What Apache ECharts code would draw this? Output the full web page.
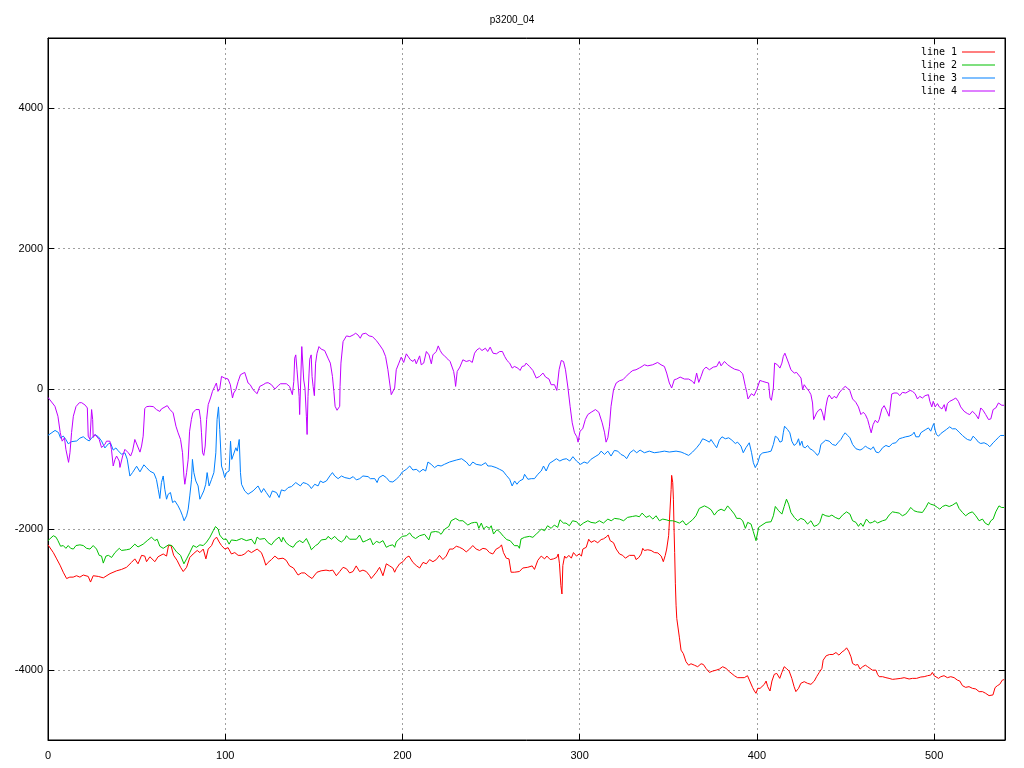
<!DOCTYPE html>
<html>
<head>
<meta charset="utf-8">
<script src="https://cdn.jsdelivr.net/npm/echarts@6/dist/echarts.min.js"></script>
<style>html,body{margin:0;padding:0;background:#fff}#c{width:1024px;height:768px}</style>
</head>
<body>
<div id="c"></div>
<script>
const titleText = 'p3200_04';
const seriesNames = ['line 1', 'line 2', 'line 3', 'line 4'];
const yTickValues = [-4000, -2000, 0, 2000, 4000];

const line1 = [[0,-2220],[1.1,-2240],[3,-2330],[4.9,-2420],[6.8,-2510],[8.6,-2610],[10.5,-2700],[12.3,-2680],[14.2,-2680],[16.1,-2660],[18,-2680],[19.9,-2650],[22.7,-2670],[24,-2750],[25.5,-2660],[28.4,-2670],[31.2,-2690],[35,-2630],[38.7,-2590],[41.5,-2570],[44.3,-2540],[47.1,-2470],[49,-2420],[50.8,-2490],[52.8,-2370],[54.6,-2380],[55.6,-2460],[57.5,-2390],[60.3,-2460],[62.1,-2390],[63.1,-2400],[65,-2350],[66.9,-2380],[68,-2230],[69.4,-2230],[70.9,-2370],[72.8,-2440],[74.8,-2540],[76.3,-2600],[78.2,-2540],[80,-2400],[81.9,-2350],[84.2,-2300],[85.7,-2330],[87.6,-2280],[89.1,-2420],[90.4,-2280],[92.3,-2230],[93.6,-2150],[95.1,-2110],[96.6,-2180],[97.9,-2230],[99.8,-2280],[101.6,-2260],[103.5,-2350],[105.4,-2330],[107.3,-2370],[109.2,-2370],[111,-2350],[112.9,-2300],[114.8,-2330],[118,-2280],[120.4,-2330],[121.8,-2420],[122.9,-2510],[124.2,-2470],[126.1,-2430],[128,-2380],[129.9,-2420],[130.8,-2430],[132.6,-2410],[134.4,-2440],[136.3,-2520],[138.5,-2550],[141.1,-2650],[143,-2620],[144.9,-2620],[146.7,-2660],[149,-2700],[150.5,-2650],[151.8,-2610],[154.1,-2590],[156.9,-2580],[158.8,-2590],[160.7,-2580],[162.7,-2660],[164.6,-2600],[166.5,-2540],[168.4,-2560],[170.2,-2620],[172.1,-2600],[173.9,-2520],[175.8,-2600],[177.7,-2580],[179.6,-2600],[181.5,-2660],[182.4,-2700],[185.3,-2610],[187.1,-2540],[189,-2660],[190.9,-2490],[192.8,-2520],[194.6,-2550],[195.6,-2610],[196.5,-2560],[198.4,-2490],[200.3,-2460],[202.2,-2400],[203.7,-2380],[205.9,-2470],[207.8,-2515],[209.7,-2550],[211.6,-2470],[213.5,-2490],[215.3,-2430],[217.2,-2460],[219.1,-2430],[220.9,-2370],[222.8,-2430],[224.7,-2380],[226.6,-2280],[228.5,-2280],[230.4,-2240],[232.2,-2255],[234.1,-2280],[236,-2320],[237.9,-2280],[239.7,-2230],[241.6,-2280],[243.5,-2300],[245.4,-2270],[247.3,-2280],[249.1,-2330],[251,-2350],[252.9,-2280],[254.8,-2255],[255.9,-2220],[257,-2330],[258.6,-2410],[260.1,-2420],[261.3,-2610],[263.2,-2610],[266,-2600],[267.9,-2550],[270.7,-2540],[273.2,-2520],[274.5,-2570],[276.4,-2440],[278.3,-2380],[280.2,-2420],[281.5,-2380],[283.4,-2430],[285.2,-2420],[287.1,-2400],[287.9,-2350],[288.6,-2490],[289.4,-2800],[290,-2920],[290.5,-2515],[291.5,-2380],[292.4,-2410],[293.9,-2370],[295.3,-2410],[296.5,-2330],[298.2,-2380],[299.7,-2350],[301,-2380],[301.8,-2280],[303.7,-2255],[305.1,-2140],[306.4,-2185],[308.3,-2160],[310.2,-2190],[312.1,-2145],[313.4,-2135],[314.9,-2110],[316.1,-2080],[317.2,-2160],[319.1,-2190],[320.6,-2280],[322.5,-2350],[324.3,-2370],[325.8,-2410],[328.1,-2370],[330.9,-2370],[331.8,-2430],[333.4,-2400],[334.7,-2350],[335.6,-2270],[336.5,-2300],[338.4,-2290],[340.3,-2300],[342.2,-2330],[344.1,-2335],[346,-2380],[347.2,-2460],[348.3,-2370],[349.1,-2280],[350.2,-2090],[351,-1710],[351.6,-1430],[351.9,-1230],[352.5,-1330],[352.9,-1570],[353.3,-2040],[353.6,-2330],[354,-2775],[354.4,-3080],[354.8,-3270],[356.3,-3545],[357.2,-3720],[358.5,-3770],[360,-3885],[361.5,-3935],[362.8,-3914],[364.7,-3934],[366.6,-3956],[368.5,-3914],[369.8,-3924],[371.3,-3980],[373.2,-4037],[375.1,-4018],[377,-4005],[378.8,-3990],[380.7,-3956],[382.6,-3980],[384.5,-4027],[385.4,-4051],[387.3,-4084],[389.1,-4112],[391,-4112],[392.9,-4112],[394.7,-4084],[395.6,-4098],[397.6,-4254],[398.6,-4302],[399.5,-4335],[400.5,-4264],[401.8,-4264],[402.9,-4288],[404.2,-4207],[405.2,-4160],[406.1,-4240],[407.4,-4302],[408.5,-4160],[409.8,-4065],[411.2,-4051],[412.9,-4122],[414.1,-4037],[415.4,-3956],[416.6,-3980],[418.2,-4018],[419.7,-4122],[421,-4240],[422,-4311],[423.5,-4264],[424.8,-4193],[426.7,-4169],[428.6,-4193],[430.5,-4207],[432.4,-4160],[433.7,-4098],[435.2,-4037],[436.7,-3980],[437.4,-3863],[439.1,-3800],[441,-3782],[442.9,-3782],[444.6,-3754],[446.3,-3791],[448.1,-3744],[449.5,-3721],[450.6,-3687],[451.8,-3735],[453.1,-3815],[454,-3910],[455.6,-3934],[456.9,-3924],[458.2,-3990],[459.7,-3956],[461.2,-3934],[462.5,-3956],[463.8,-3980],[465.2,-4005],[467.2,-4005],[468.1,-4065],[469,-4098],[470.9,-4098],[472.8,-4112],[474.6,-4122],[476.5,-4136],[478.4,-4131],[481.2,-4122],[483.1,-4112],[485.9,-4131],[487.8,-4122],[490.1,-4122],[492.5,-4103],[494.4,-4098],[496.3,-4084],[498.1,-4075],[499,-4037],[500,-4084],[501,-4065],[502.5,-4122],[503.8,-4098],[505.6,-4084],[507.5,-4112],[509.4,-4098],[511.3,-4112],[513.1,-4146],[514.5,-4160],[516,-4226],[517.8,-4250],[519.7,-4240],[521.6,-4264],[523.5,-4273],[525.4,-4311],[527.3,-4311],[529.1,-4335],[531,-4368],[531.9,-4396],[533.2,-4358],[534.4,-4254],[535.7,-4226],[537,-4207],[538.5,-4146],[539.5,-4140]];

const line2 = [[0,-2160],[1.1,-2180],[3,-2090],[4.5,-2110],[5.6,-2160],[7.1,-2240],[8.6,-2230],[10.1,-2270],[11.4,-2230],[12.8,-2270],[14.3,-2280],[15.8,-2230],[18,-2220],[19.9,-2230],[21.8,-2270],[23.7,-2280],[25.5,-2230],[27.4,-2280],[28.9,-2370],[30.2,-2380],[31.2,-2480],[32.7,-2380],[34.1,-2370],[35.9,-2400],[37.8,-2330],[40.2,-2270],[41.5,-2300],[44.3,-2290],[46.2,-2280],[49,-2210],[50.8,-2250],[53.7,-2210],[56,-2160],[58.4,-2110],[60.3,-2160],[61.6,-2140],[63.1,-2240],[65,-2270],[65.9,-2270],[68,-2220],[69.9,-2230],[72.5,-2320],[74.8,-2370],[76.7,-2490],[78.2,-2420],[80,-2330],[81.9,-2230],[83.8,-2255],[85.7,-2220],[87.6,-2230],[89.5,-2180],[91.4,-2110],[93.2,-2020],[94.5,-1960],[96,-1995],[96.9,-2080],[98.8,-2140],[100.7,-2140],[102.2,-2210],[103.5,-2150],[106.3,-2160],[109.2,-2130],[111.9,-2160],[114.8,-2140],[116.7,-2210],[118,-2110],[119.5,-2140],[122.3,-2130],[124.2,-2190],[126.1,-2220],[127.9,-2160],[130.4,-2110],[131.8,-2180],[132.6,-2113],[134.4,-2190],[136.3,-2230],[138.3,-2255],[140.1,-2190],[142,-2160],[143.9,-2190],[145.8,-2130],[147.7,-2230],[148.6,-2290],[151,-2230],[152.3,-2210],[154.2,-2150],[157,-2140],[158,-2100],[159.9,-2140],[161.8,-2100],[163.6,-2150],[165.5,-2180],[167.4,-2140],[168.4,-2090],[170.2,-2140],[174,-2140],[175.8,-2080],[177.7,-2180],[179.6,-2160],[181.9,-2130],[183.4,-2220],[185.3,-2170],[187.1,-2190],[189,-2160],[190.9,-2255],[192.8,-2230],[194.6,-2220],[195.6,-2255],[196.5,-2180],[198,-2140],[199.9,-2100],[200.3,-2090],[202.2,-2090],[204.1,-2050],[205.5,-2100],[207.4,-2130],[209.7,-2090],[212.5,-2070],[214.9,-2150],[216.2,-2040],[218.7,-2030],[220.5,-2040],[221.8,-2070],[223.7,-2000],[226.2,-1957],[227.5,-1877],[230,-1843],[232.2,-1877],[234.1,-1877],[236.9,-1938],[238.8,-1910],[240.7,-1900],[242,-1900],[243.1,-1985],[244.5,-1910],[245.8,-1995],[247.3,-1957],[249.1,-1985],[250.1,-1948],[251.4,-2066],[253.3,-2004],[254.8,-2033],[257,-2099],[258.9,-2146],[260.8,-2161],[263.2,-2232],[265.1,-2232],[266,-2269],[266.9,-2137],[268.9,-2113],[271.7,-2099],[273.6,-2113],[275.5,-2066],[277,-2033],[278.3,-1995],[280.2,-2019],[281.9,-1948],[283.9,-1985],[285.7,-1938],[287.6,-1971],[288.9,-1863],[290.8,-1910],[292.3,-1910],[294.2,-1948],[296,-1877],[298.3,-1891],[300.2,-1948],[302.1,-1910],[304.6,-1877],[306.4,-1900],[308.9,-1910],[311.1,-1877],[313.4,-1910],[315.9,-1853],[317.8,-1877],[319.7,-1843],[322.5,-1853],[324.8,-1877],[327,-1829],[329.9,-1815],[331.8,-1806],[333.7,-1820],[335.2,-1768],[336.5,-1800],[337.5,-1829],[339.4,-1806],[341.3,-1853],[343.1,-1806],[345,-1877],[346.9,-1853],[348.8,-1863],[350.6,-1877],[352.5,-1877],[354.4,-1891],[356.3,-1910],[358.2,-1877],[360,-1938],[361.9,-1900],[363.7,-1863],[365.6,-1806],[367.5,-1701],[370.4,-1665],[372.3,-1688],[374.2,-1721],[376,-1796],[377.9,-1735],[379.8,-1712],[381.7,-1735],[383.5,-1665],[385.4,-1721],[387.3,-1782],[388.6,-1843],[390.5,-1843],[392,-1877],[393.5,-1985],[394.8,-1900],[396.7,-1924],[398,-2033],[399.5,-2161],[401,-1971],[402.3,-1948],[403.3,-1948],[405.2,-1900],[408,-1891],[409.3,-1806],[410.4,-1673],[412.3,-1735],[414.1,-1782],[415.4,-1674],[416.7,-1570],[417.9,-1641],[419.2,-1759],[421.1,-1829],[423,-1877],[424.8,-1843],[426.7,-1863],[428.6,-1924],[430.5,-1877],[432.3,-1957],[434.2,-1938],[435.5,-1900],[437,-1782],[438.9,-1806],[440.8,-1815],[442.3,-1796],[444.2,-1829],[446.4,-1853],[448.3,-1796],[450.6,-1750],[452.5,-1782],[454,-1877],[455.9,-1900],[457.3,-1957],[458.6,-1910],[459.9,-1957],[461.8,-1853],[463.7,-1910],[465.2,-1900],[466.7,-1877],[468,-1910],[469,-1910],[470.9,-1877],[472.8,-1863],[474.6,-1796],[476.5,-1750],[478.4,-1759],[480.3,-1768],[482.1,-1806],[484,-1782],[485.5,-1735],[486.8,-1687],[488.7,-1735],[490.6,-1750],[493.4,-1759],[495.3,-1688],[496.8,-1617],[498.1,-1641],[500,-1655],[501.9,-1688],[503.2,-1712],[504.7,-1674],[506.6,-1655],[508.5,-1674],[510.3,-1655],[512.6,-1617],[514.1,-1702],[516,-1759],[517.8,-1806],[519.7,-1768],[521.6,-1750],[523.5,-1806],[525.4,-1877],[527.3,-1853],[528.8,-1910],[530.7,-1938],[532,-1877],[533.3,-1853],[534.8,-1750],[536.6,-1665],[538.1,-1688],[539.5,-1688]];

const line3 = [[0,-660],[1.1,-650],[4,-590],[5.9,-620],[7.1,-700],[8.6,-670],[10.1,-720],[11.4,-780],[13.3,-750],[16.2,-740],[18,-700],[19.9,-680],[21.8,-720],[23.3,-740],[24.6,-700],[26.5,-650],[28.4,-680],[30.2,-740],[32.1,-840],[34.1,-780],[35.3,-770],[36.8,-870],[38.3,-840],[39.6,-880],[41.5,-930],[43.4,-910],[44.7,-1000],[46.2,-1240],[47.7,-1190],[50,-1100],[51.9,-1180],[54.1,-1080],[55.6,-1120],[57.5,-1170],[59.8,-1200],[61.2,-1290],[62.2,-1430],[63.1,-1560],[64,-1333],[65,-1239],[65.9,-1428],[66.9,-1570],[67.8,-1499],[69.1,-1475],[70.3,-1617],[71.6,-1594],[73.4,-1665],[74.8,-1736],[75.9,-1807],[76.8,-1877],[78.2,-1807],[79.1,-1712],[80,-1523],[81,-1286],[81.5,-1003],[82.3,-1191],[83.4,-1310],[84.7,-1381],[85.7,-1570],[86.6,-1523],[87.9,-1452],[89,-1357],[89.8,-1191],[90.9,-1381],[92.3,-1286],[93.6,-1191],[94.7,-908],[95.4,-435],[96.2,-255],[96.9,-577],[97.9,-1097],[98.8,-1168],[99.7,-1262],[100.7,-1191],[102.2,-1168],[103,-743],[103.7,-1003],[104.8,-979],[106,-837],[106.8,-885],[107.9,-719],[108.6,-1191],[109.2,-1357],[111,-1452],[112.9,-1499],[115.7,-1452],[118.5,-1381],[120.4,-1475],[121.7,-1418],[123.2,-1475],[125.1,-1546],[126.6,-1452],[128.9,-1475],[130.4,-1546],[131.7,-1437],[133.6,-1452],[135.5,-1404],[137.4,-1390],[139.8,-1333],[141.1,-1357],[142.4,-1381],[143.9,-1333],[145.8,-1347],[147.3,-1371],[148.6,-1418],[150.5,-1357],[152.4,-1381],[153.7,-1310],[155.2,-1333],[157.1,-1310],[159,-1239],[160.5,-1191],[161.8,-1239],[163.7,-1277],[165.6,-1239],[167.5,-1262],[170.3,-1277],[172.2,-1248],[174,-1295],[175.9,-1277],[177.7,-1239],[180.6,-1248],[181.9,-1277],[184.4,-1277],[185.7,-1333],[186.8,-1262],[189,-1229],[190.9,-1262],[192.8,-1319],[194.6,-1324],[196.5,-1286],[198.4,-1239],[199.9,-1182],[200.3,-1168],[202.2,-1144],[204.1,-1097],[205.9,-1154],[207.8,-1144],[209.7,-1182],[211.6,-1144],[213.1,-1168],[214.4,-1040],[216.2,-1073],[218.1,-1120],[220,-1087],[221.8,-1097],[223.7,-1073],[226.6,-1040],[228.5,-1026],[230.4,-1012],[233.4,-993],[234.1,-1012],[236,-1040],[237.9,-1097],[239.7,-1040],[241.6,-1073],[244.5,-1087],[246.9,-1050],[248.2,-1097],[250.1,-1097],[252.9,-1120],[254.8,-1144],[256.7,-1168],[258.6,-1229],[260.5,-1286],[261.9,-1381],[263.3,-1310],[264.6,-1357],[266.1,-1310],[268,-1286],[268.9,-1215],[270.8,-1286],[272.7,-1277],[274.5,-1277],[276.4,-1215],[278.3,-1168],[279.6,-1097],[281.1,-1168],[283,-1059],[285,-1026],[286.9,-993],[288.8,-1026],[290.6,-1003],[292.5,-993],[294.4,-1026],[296.2,-964],[298.2,-1026],[300.5,-1073],[302.5,-1040],[304.4,-1059],[306.3,-1003],[308.7,-964],[310.8,-932],[312.1,-885],[314,-932],[315.9,-885],[317.7,-955],[319.6,-875],[321.5,-885],[323.3,-932],[325.2,-955],[326.5,-993],[328.4,-908],[330.4,-870],[332.2,-908],[334.1,-870],[336.5,-908],[339.3,-885],[342.1,-908],[345,-898],[347.8,-885],[350.6,-898],[354.4,-885],[357.2,-898],[359.1,-918],[361.5,-946],[363.7,-898],[366,-837],[367.9,-776],[369.4,-709],[371.3,-729],[373.2,-757],[374.1,-719],[376,-790],[377.3,-837],[378.8,-729],[380.3,-681],[382.2,-709],[384.1,-695],[385.9,-729],[387.8,-776],[389.1,-757],[391,-813],[392.3,-908],[393.8,-837],[395.7,-766],[397,-908],[398,-1050],[399.1,-1120],[400.5,-1050],[401.8,-940],[403.3,-910],[406.1,-898],[408,-885],[409.3,-790],[410.4,-672],[411.7,-695],[413,-757],[414.2,-743],[414.9,-624],[415.6,-530],[417.3,-577],[418.6,-624],[419.7,-743],[421,-804],[422.4,-776],[423.5,-709],[424.3,-804],[425.4,-743],[426.1,-823],[427.3,-837],[428.6,-804],[429.9,-851],[431.4,-870],[432.9,-908],[434.2,-946],[435.2,-908],[436.1,-790],[437,-766],[438.8,-729],[440.8,-743],[442.6,-790],[444.5,-804],[446,-757],[447.4,-719],[448.7,-662],[449.8,-624],[451.2,-662],[452.5,-695],[454,-790],[455.9,-851],[458.2,-870],[459.7,-851],[461.2,-813],[462.5,-837],[464.4,-861],[465.7,-823],[467.2,-898],[468.7,-908],[470,-870],[470.9,-837],[472.8,-804],[474.6,-823],[476.5,-776],[478.4,-766],[480.3,-709],[482.1,-695],[484,-681],[485.9,-672],[487.8,-648],[488.7,-615],[489.7,-681],[491.5,-681],[492.5,-624],[493.8,-601],[495.3,-577],[496.8,-554],[498.1,-601],[499,-539],[499.8,-492],[500.6,-586],[501.3,-648],[502.5,-672],[503.8,-634],[505.6,-601],[506.9,-577],[508.8,-539],[510.3,-567],[512.2,-567],[514.1,-615],[516,-662],[517.5,-695],[518.8,-719],[520.7,-733],[522,-672],[523.5,-709],[525,-757],[526.3,-776],[528.2,-766],[530.1,-790],[531.4,-823],[533.3,-766],[534.8,-729],[536.1,-695],[537.4,-662],[538.5,-648],[539.5,-662]];

const line4 = [[0,-120],[1.1,-142],[3.9,-246],[5.6,-388],[6.9,-620],[8,-743],[9.3,-695],[10.1,-860],[11.6,-1045],[12.4,-908],[13.3,-620],[14.3,-388],[15.8,-250],[17.7,-195],[19,-195],[21,-230],[22.2,-270],[22.7,-672],[23.7,-719],[24.6,-293],[25.2,-435],[25.5,-690],[26.5,-648],[27.4,-672],[28.9,-719],[30.2,-833],[32.1,-790],[33,-743],[34.9,-743],[35.8,-860],[36.8,-1097],[37.8,-1003],[38.7,-955],[40.2,-1026],[40.6,-1117],[42.1,-955],[43.4,-860],[45.3,-908],[46.6,-955],[47.7,-885],[49,-719],[50,-743],[51.9,-899],[52.8,-813],[53.7,-672],[54.6,-280],[55.6,-251],[57.5,-246],[59.4,-251],[61.2,-293],[63.1,-320],[64,-284],[65,-284],[67.3,-237],[68.8,-293],[70.6,-340],[72.2,-530],[73.4,-624],[74.8,-719],[75.9,-908],[76.7,-1239],[77.2,-1357],[78.2,-1191],[79.1,-1003],[79.9,-601],[80.9,-435],[81.7,-340],[83.4,-293],[85.3,-293],[86.1,-435],[86.6,-624],[87.2,-908],[87.9,-946],[88.7,-813],[89.5,-435],[90.4,-223],[91.7,-128],[92.8,-34],[94.1,37],[95,85],[95.9,-34],[96.9,0],[97.9,179],[98.8,189],[99.7,156],[101.6,142],[102.9,61],[104.1,-128],[104.8,-57],[106,-10],[107.3,108],[108.6,203],[109.7,217],[111,236],[112,227],[112.9,85],[114.1,61],[115.7,-10],[116.6,14],[118,-67],[119.5,37],[121.4,61],[122.9,85],[124.2,90],[126.1,61],[128,0],[129.9,47],[131.2,75],[134.5,75],[136.3,37],[137.9,-81],[138.7,108],[139.2,440],[139.8,486],[140.5,274],[141.1,85],[141.7,-105],[142,-364],[142.6,128],[143.2,604],[143.7,614],[144.3,128],[145,14],[145.8,-388],[146.2,-648],[146.7,-105],[147.3,227],[147.7,425],[148.5,486],[149,179],[149.6,37],[150.3,-95],[151,369],[151.8,510],[152.9,604],[154.2,567],[156.1,548],[158,440],[159.3,369],[160.5,179],[161.3,-34],[162,-246],[163.1,-303],[164.6,-246],[164.8,37],[165.3,369],[166.5,675],[168.4,756],[170.3,746],[172.2,770],[173.6,794],[174.9,770],[176.2,723],[177.4,784],[179.3,794],[181.2,756],[183.1,746],[185.3,689],[187.1,628],[189,557],[190.5,462],[191.8,274],[192.8,85],[193.7,-81],[194.6,-105],[195.6,14],[196.5,274],[198,369],[199.3,453],[200.7,378],[202.2,501],[203.2,486],[204.5,416],[206,392],[206.9,425],[207.8,359],[209.7,472],[210.6,345],[212,369],[213.5,534],[215,486],[216.3,359],[217.2,486],[219.1,534],[220.2,614],[221.3,548],[222.4,501],[223.7,472],[225.6,425],[226.9,392],[228,378],[228.9,250],[229.5,156],[230,37],[230.9,250],[232.4,312],[234.1,416],[236,392],[237.9,406],[239.4,378],[240.7,510],[242,557],[243.5,581],[244.9,548],[246.8,581],[248.1,534],[249.5,596],[251.1,510],[253,501],[254.9,534],[256.4,534],[257.7,463],[259,406],[260.5,369],[261.9,298],[263.2,321],[265.1,298],[266.4,264],[267.5,321],[268.9,330],[269.8,369],[271.7,321],[273.6,264],[275.5,156],[277.4,179],[279.3,227],[280.8,170],[282.7,142],[283.9,61],[285.8,61],[287.1,-20],[288.4,274],[289.6,406],[290.9,392],[292,274],[293.4,14],[294.6,-246],[295.8,-482],[297.1,-624],[298.4,-681],[299.1,-757],[300.2,-601],[301.7,-567],[303.2,-435],[304.6,-364],[306.5,-331],[308.9,-293],[310.8,-331],[312.7,-482],[314,-615],[314.9,-757],[315.9,-695],[316.8,-530],[317.7,-246],[319.1,-10],[320.6,85],[322.5,118],[324.4,132],[326.2,179],[328.1,227],[330,264],[331.8,274],[333.7,300],[335.2,321],[336.5,345],[338.4,330],[341.2,345],[344,378],[345.9,345],[347.8,321],[349.1,227],[350.6,85],[351.9,14],[353.4,132],[354.7,142],[356.7,170],[359.1,142],[361.5,142],[363.7,108],[364.7,75],[366,227],[367.2,94],[368.5,179],[369.8,274],[371.3,312],[373.2,274],[375.4,312],[377.3,321],[378.8,392],[379.8,330],[381.7,392],[383.5,345],[385.4,312],[387.3,283],[390.1,264],[392,217],[393.5,37],[394.3,-48],[395,-142],[396.9,-67],[398.4,-95],[399.9,-10],[401.7,122],[403.3,108],[405.2,94],[406.6,85],[407.4,-128],[408.2,-161],[409.3,14],[410,369],[410.6,392],[411.6,345],[413,298],[414.1,369],[414.9,463],[415.8,510],[416.7,486],[417.9,369],[419.2,274],[421.1,227],[422.4,236],[423.5,264],[424.9,156],[425.8,-10],[426.7,61],[428,14],[429.5,-34],[430.5,-81],[431.4,-199],[432,-435],[432.6,-459],[433.7,-340],[434.8,-303],[436.1,-284],[437,-340],[438,-445],[438.9,-255],[439.9,-128],[440.8,-85],[442.3,-142],[443.6,-105],[444.9,-128],[446.4,-57],[447.9,-10],[449.8,37],[451.1,14],[452.4,-20],[454,-142],[455.8,-189],[457.3,-255],[458.7,-364],[460,-331],[461.2,-364],[462.5,-435],[463.4,-520],[464.5,-624],[465.6,-506],[466.8,-445],[468.1,-482],[469,-435],[470.5,-284],[471.8,-237],[473.1,-303],[474.6,-388],[476.1,-71],[477.4,-57],[479.3,-57],[480.6,-95],[482.1,-48],[484,-57],[486.5,-20],[487.8,-34],[489.3,-67],[490.6,-142],[491.9,-105],[493.4,-128],[494.9,-95],[496.8,-81],[497.6,-176],[498.7,-255],[499.5,-176],[500.6,-255],[501.9,-208],[502.9,-255],[504.4,-284],[505.7,-223],[506.6,-317],[507.5,-208],[508.8,-176],[510.7,-152],[512.2,-128],[513.7,-176],[515,-255],[516.9,-317],[518.8,-350],[520.1,-364],[521.6,-317],[523.5,-364],[525,-426],[526.3,-270],[527.6,-303],[529.1,-364],[530.7,-435],[532,-426],[533.3,-293],[534.8,-270],[536.3,-199],[537,-176],[538.2,-232],[539.5,-232]];

const colors = ['#ff0000', '#00c000', '#0080ff', '#c000ff'];
const allData = [line1, line2, line3, line4];

const chart = echarts.init(document.getElementById('c'), null, {renderer: 'canvas'});
const gridLine = {show: true, lineStyle: {color: '#a0a0a0', width: 1, type: [2, 3]}};
const labelFont = {color: '#000', fontFamily: 'Liberation Sans', fontSize: 11};
const plainNum = v => String(v);

chart.setOption({
  animation: false,
  backgroundColor: '#ffffff',
  title: {
    text: titleText, left: 'center', top: 10,
    textStyle: {fontFamily: 'Liberation Sans', fontSize: 10, fontWeight: 'normal', color: '#000'}
  },
  legend: {
    orient: 'vertical', right: 24, top: 42, align: 'right', padding: 5,
    itemWidth: 33, itemHeight: 12, itemGap: 3,
    icon: 'path://M0,0 L33,0 L33,1 L0,1 Z',
    symbolKeepAspect: true,
    textStyle: {fontFamily: 'DejaVu Sans Mono', fontSize: 10, color: '#000'},
    data: seriesNames
  },
  grid: {left: 48, right: 19, top: 38, bottom: 28, show: true, borderColor: '#000', borderWidth: 1, backgroundColor: 'transparent'},
  xAxis: [{
    type: 'value', min: 0, max: 540, interval: 100, position: 'bottom',
    axisLine: {show: true, onZero: false, lineStyle: {color: '#000'}},
    axisTick: {show: true, inside: true, length: 6, lineStyle: {color: '#000'}},
    axisLabel: Object.assign({margin: 10, showMaxLabel: false, formatter: plainNum}, labelFont),
    splitLine: gridLine
  }, {
    type: 'value', min: 0, max: 540, interval: 100, position: 'top',
    axisLine: {show: true, onZero: false, lineStyle: {color: '#000'}},
    axisTick: {show: true, inside: true, length: 6, lineStyle: {color: '#000'}},
    axisLabel: {show: false}, splitLine: {show: false}
  }],
  yAxis: [{
    type: 'value', min: -5000, max: 5000, interval: 1000, position: 'left',
    axisLine: {show: true, onZero: false, lineStyle: {color: '#000'}},
    axisTick: {show: true, inside: true, length: 6, lineStyle: {color: '#000'}, customValues: yTickValues},
    axisLabel: Object.assign({margin: 5, customValues: yTickValues, formatter: plainNum}, labelFont),
    splitLine: gridLine
  }, {
    type: 'value', min: -5000, max: 5000, interval: 1000, position: 'right',
    axisLine: {show: true, onZero: false, lineStyle: {color: '#000'}},
    axisTick: {show: true, inside: true, length: 6, lineStyle: {color: '#000'}, customValues: yTickValues},
    axisLabel: {show: false}, splitLine: {show: false}
  }],
  series: allData.map((d, i) => ({
    name: seriesNames[i], type: 'line', data: d,
    xAxisIndex: 0, yAxisIndex: 0,
    symbol: 'none', showSymbol: false,
    lineStyle: {color: colors[i], width: 1},
    itemStyle: {color: colors[i]},
    emphasis: {disabled: true}
  }))
});
</script>
</body>
</html>
